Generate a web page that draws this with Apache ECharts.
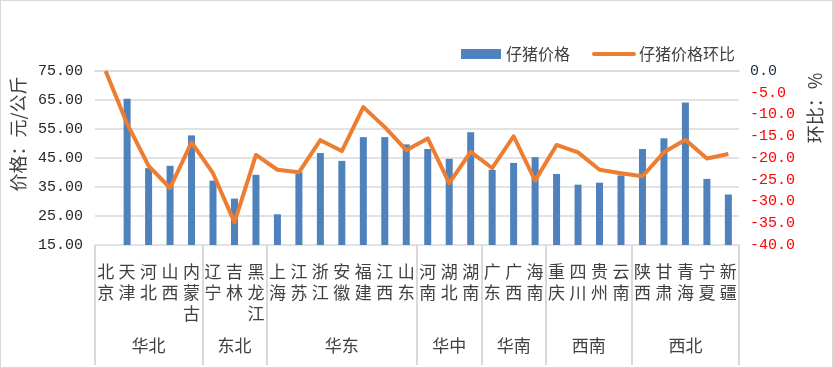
<!DOCTYPE html>
<html><head><meta charset="utf-8">
<script src="https://cdn.jsdelivr.net/npm/echarts@6/dist/echarts.min.js"></script>
<style>
html,body{margin:0;padding:0;background:#fff;}
#c{width:833px;height:368px;box-sizing:border-box;border:1px solid #d9d9d9;}
</style></head>
<body><div id="c"></div>
<script>
const provinces = ['北京','天津','河北','山西','内蒙古','辽宁','吉林','黑龙江','上海','江苏','浙江','安徽','福建','江西','山东','河南','湖北','湖南','广东','广西','海南','重庆','四川','贵州','云南','陕西','甘肃','青海','宁夏','新疆'];
const regionNames = ['华北','东北','华东','华中','华南','西南','西北'];
const regionSizes = [5,3,7,3,3,4,5];
const price = [null,65.4,41.5,42.3,52.8,37.2,31.0,39.2,25.6,40.1,46.7,44.0,52.2,52.2,49.7,48.1,44.7,53.9,40.9,43.3,45.3,39.5,35.8,36.5,39.0,48.1,51.8,64.1,37.8,32.4];
const mom = [0.0,-12.1,-21.8,-26.9,-16.4,-23.5,-34.8,-19.3,-22.7,-23.3,-15.9,-18.4,-8.3,-12.9,-18.2,-15.5,-25.8,-18.6,-22.3,-15.0,-25.2,-17.0,-18.7,-22.7,-23.5,-24.2,-18.7,-15.8,-20.1,-19.1];
const leftTicks = {min:15, max:75, interval:10};
const rightTicks = {min:-40, max:0, interval:5};

const boundaries = [];
const centers = [];
let s = 0;
regionSizes.forEach((n) => {
  boundaries.push(s);
  centers.push(s + n / 2);
  s += n;
});
boundaries.push(s);

const cjk = '"Noto Sans CJK SC", "Noto Sans", sans-serif';
const num = '"Liberation Mono", monospace';
const chart = echarts.init(document.getElementById('c'));
chart.setOption({
  animation: false,
  textStyle: {fontFamily: cjk},
  grid: {left: 91, right: 72, top: 70, bottom: 122, containLabel: false},
  legend: {
    left: 455, top: 40,
    itemGap: 22,
    itemWidth: 40, itemHeight: 10,
    textStyle: {fontSize: 16, color: '#404040', fontFamily: cjk},
    data: [
      {name: '仔猪价格', icon: 'rect'},
      {name: '仔猪价格环比', itemStyle: {opacity: 0, borderWidth: 0}, lineStyle: {width: 4, cap: 'round', color: '#ed7d31'}}
    ]
  },
  xAxis: [{
    type: 'category',
    data: provinces,
    axisLine: {show: true, lineStyle: {color: '#d9d9d9', width: 1.5}},
    axisTick: {show: false},
    axisLabel: {
      interval: 0, margin: 16, fontSize: 17, lineHeight: 21, color: '#404040', fontFamily: cjk,
      formatter: (v) => v.split('').join('\n')
    }
  }, {
    type: 'value',
    min: 0, max: provinces.length,
    position: 'bottom',
    offset: 0,
    axisLine: {show: false},
    splitLine: {show: false},
    axisTick: {show: true, customValues: boundaries, length: 120, lineStyle: {color: '#d9d9d9', width: 2}},
    axisLabel: {
      customValues: centers, margin: 92, fontSize: 17, color: '#404040', fontFamily: cjk,
      formatter: (v) => {
        const k = centers.findIndex((c) => Math.abs(c - v) < 1e-6);
        return k >= 0 ? regionNames[k] : '';
      }
    }
  }],
  yAxis: [{
    type: 'value',
    min: leftTicks.min, max: leftTicks.max, interval: leftTicks.interval,
    name: '价格：元/公斤',
    nameLocation: 'middle', nameRotate: 90, nameGap: 66,
    nameTextStyle: {fontSize: 18, color: '#404040', fontFamily: cjk, padding: [0, 0, 0, 48]},
    axisLine: {show: false}, axisTick: {show: false},
    axisLabel: {margin: 12, fontSize: 15, color: '#262626', fontFamily: num, formatter: (v) => v.toFixed(2)},
    splitLine: {show: true, lineStyle: {color: '#d9d9d9', width: 1.5}}
  }, {
    type: 'value',
    min: rightTicks.min, max: rightTicks.max, interval: rightTicks.interval,
    name: '环比：%',
    nameLocation: 'middle', nameRotate: 90, nameGap: 48,
    nameTextStyle: {fontSize: 18, color: '#404040', fontFamily: cjk, padding: [0, 0, 0, 100]},
    axisLine: {show: false}, axisTick: {show: false},
    axisLabel: {margin: 11, fontSize: 15, fontFamily: num,
      color: (v) => (Number(v) === 0 ? '#1f2d4d' : '#ff0000'),
      formatter: (v) => v.toFixed(1)},
    splitLine: {show: false}
  }],
  series: [{
    name: '仔猪价格',
    type: 'bar',
    data: price,
    barWidth: 7,
    itemStyle: {color: '#4f81bd'}
  }, {
    name: '仔猪价格环比',
    type: 'line',
    yAxisIndex: 1,
    data: mom,
    symbol: 'none',
    lineStyle: {color: '#ed7d31', width: 4, join: 'round'},
    itemStyle: {color: '#ed7d31'}
  }]
});
</script></body></html>
